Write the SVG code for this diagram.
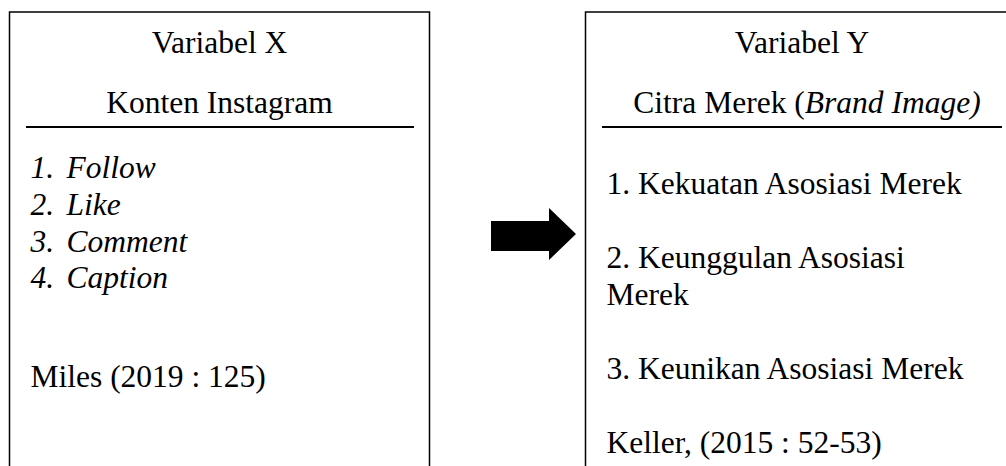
<svg xmlns="http://www.w3.org/2000/svg" width="1006" height="466" viewBox="0 0 1006 466">
<style>
  .box { fill: #fff; stroke: #000; stroke-width: 1.5; }
  .rule { stroke: #000; stroke-width: 2; }
  text { font-family: "Liberation Serif", "Times New Roman", serif; font-size: 31.5px; fill: #000; }
  .c { text-anchor: middle; }
  .i { font-style: italic; }
</style>
<rect width="1006" height="466" fill="#fff"/>
<g id="node-x">
  <rect class="box" x="9.5" y="12" width="420" height="470"/>
  <text class="c" x="219.5" y="53">Variabel X</text>
  <text class="c" x="219.5" y="113">Konten Instagram</text>
  <line class="rule" x1="26" y1="127" x2="414" y2="127"/>
  <text class="i" x="30.5" y="178">1.</text><text class="i" x="66.5" y="178">Follow</text>
  <text class="i" x="30.5" y="215">2.</text><text class="i" x="66.5" y="215">Like</text>
  <text class="i" x="30.5" y="251.5">3.</text><text class="i" x="66.5" y="251.5">Comment</text>
  <text class="i" x="30.5" y="288">4.</text><text class="i" x="66.5" y="288">Caption</text>
  <text x="30.5" y="387">Miles (2019 : 125)</text>
</g>
<g id="node-y">
  <rect class="box" x="585.5" y="12" width="440" height="470"/>
  <text class="c" x="802" y="53">Variabel Y</text>
  <text class="c" x="807" y="113">Citra Merek (<tspan class="i">Brand Image)</tspan></text>
  <line class="rule" x1="602" y1="127" x2="1002" y2="127"/>
  <text x="606.5" y="194">1. Kekuatan Asosiasi Merek</text>
  <text x="606.5" y="268">2. Keunggulan Asosiasi</text>
  <text x="606.5" y="305">Merek</text>
  <text x="606.5" y="379">3. Keunikan Asosiasi Merek</text>
  <text x="606.5" y="453">Keller, (2015 : 52-53)</text>
</g>
<g id="connectors">
  <polygon points="491,221 549,221 549,208 576,234 549,260 549,251 491,251" fill="#000"/>
</g>
</svg>
